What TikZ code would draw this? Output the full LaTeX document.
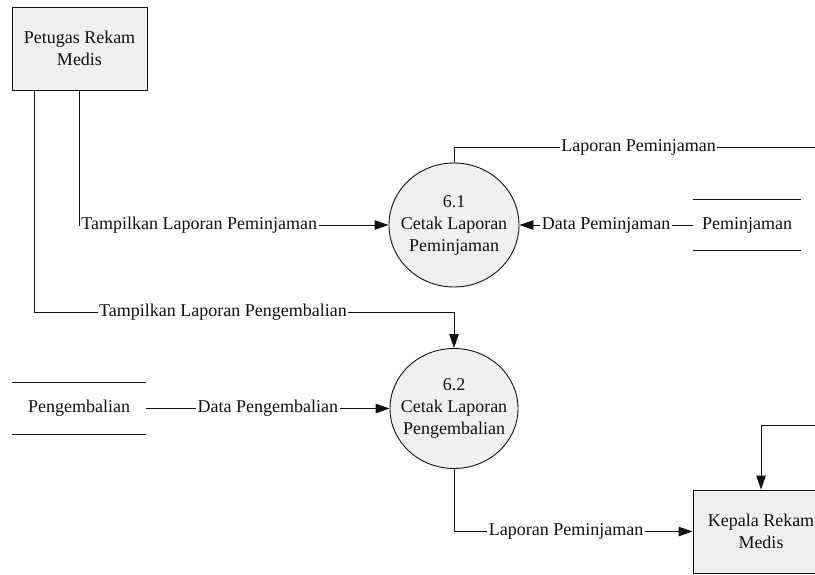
\documentclass[tikz,border=0pt]{standalone}
\usepackage{fontspec}
\setmainfont{Liberation Serif}
\usetikzlibrary{arrows.meta,shapes.geometric}
\definecolor{procfill}{HTML}{F0F0F0}
\definecolor{ink}{HTML}{111111}
\begin{document}
\begin{tikzpicture}[x=1pt,y=-1pt,
  every node/.style={font=\fontsize{18}{22}\selectfont, text=ink},
  entity/.style={draw=ink, line width=0.9pt, fill=procfill, rectangle,
    minimum width=135pt, minimum height=83pt, align=center, inner sep=0pt},
  proc/.style={draw=ink, line width=0.9pt, fill=procfill, ellipse,
    minimum width=130pt, minimum height=124pt, inner sep=0pt},
  proctext/.style={align=center, inner sep=0pt},
  store/.style={minimum width=108pt, minimum height=50pt, inner sep=0pt},
  flow/.style={draw=ink, line width=0.9pt, -{Triangle[length=14pt,width=9.5pt]}},
  plain/.style={draw=ink, line width=0.9pt},
  lbl/.style={fill=white, inner sep=1.5pt}]
\useasboundingbox (0,0) rectangle (815,574);

% external entities
\node[entity] (petugas) at (79.5,48.5) {Petugas Rekam\\Medis};
\node[entity, minimum width=136pt] (kepala) at (761,531.5) {Kepala Rekam\\Medis};

% processes: the ellipse keeps its own size, the text sits on top of it
\node[proc, label={[proctext]center:{6.1\\Cetak Laporan\\Peminjaman}}] (p61) at (454,225) {};
\node[proc, minimum width=128pt, minimum height=120pt,
  label={[proctext]center:{6.2\\Cetak Laporan\\Pengembalian}}] (p62) at (454,408.5) {};

% data stores
\node[store] (pem) at (747,225) {Peminjaman};
\draw[plain] (pem.north west) -- (pem.north east) (pem.south west) -- (pem.south east);
\node[store, minimum width=134pt, minimum height=51pt] (peng) at (79,408.5) {Pengembalian};
\draw[plain] (peng.north west) -- (peng.north east) (peng.south west) -- (peng.south east);

% free ends of flows leaving the drawing area
\coordinate (e1) at (816,147);
\coordinate (e2) at (816,425);
\coordinate (t2) at (454,312);

% data flows
\draw[flow] (petugas.south) |- node[pos=0.5, anchor=west, lbl] {Tampilkan Laporan Peminjaman} (p61);
\draw[flow] ([xshift=-45.5pt]petugas.south) |- node[pos=0.725, lbl] {Tampilkan Laporan Pengembalian} (t2) -- (p62.north);
\draw[flow] (pem) -- node[pos=0.5, lbl] {Data Peminjaman} (p61);
\draw[flow] (peng) -- node[pos=0.5, lbl] {Data Pengembalian} (p62);
\draw[flow] (p62.south) |- node[pos=0.735, lbl] {Laporan Peminjaman} (kepala);
\draw[plain] (p61.north) |- node[pos=0.755, lbl] {Laporan Peminjaman} (e1);
\draw[flow] (e2) -| (kepala.north);
\end{tikzpicture}
\end{document}
